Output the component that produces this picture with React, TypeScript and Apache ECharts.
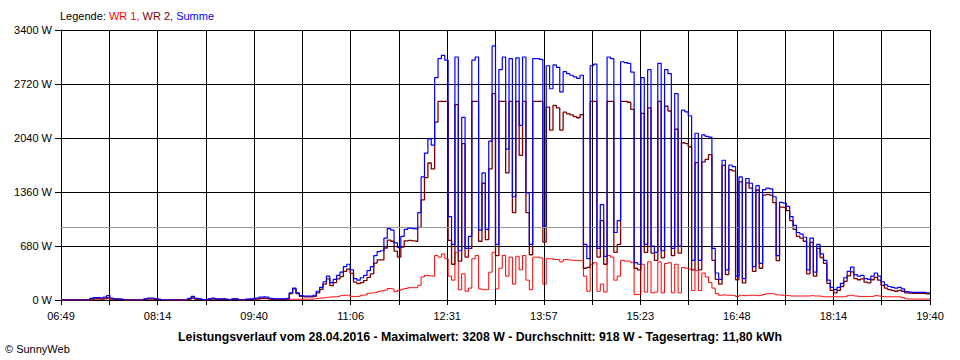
import React, { useEffect, useRef } from 'react';
import * as echarts from 'echarts';

// time axis: seconds after 06:49, one sample every 3 minutes
const STEP_SEC = 180;
const SPAN_SEC = 46260; // 06:49 -> 19:40
const X_TICK_SEC = 2570; // 18 grid columns
const xTickLabels = ['06:49', '08:14', '09:40', '11:06', '12:31', '13:57', '15:23', '16:48', '18:14', '19:40'];

const Y_MAX = 3400;
const Y_STEP = 680;
const avgPower = 918;

const titleText = 'Leistungsverlauf vom 28.04.2016 - Maximalwert: 3208 W - Durchschnitt: 918 W - Tagesertrag: 11,80 kWh';

// WR 1 (W)
const wr1 = [
  0, 0, 0, 0, 0, 0, 0, 0, 0, 10,
  15, 15, 15, 20, 30, 15, 5, 5, 5, 0,
  0, 0, 0, 0, 0, 5, 10, 10, 5, 5,
  0, 0, 0, 0, 0, 0, 0, 0, 10, 20,
  10, 5, 0, 0, 5, 10, 5, 5, 5, 5,
  0, 5, 5, 0, 0, 5, 5, 5, 10, 15,
  15, 15, 10, 5, 5, 5, 5, 5, 10, 10,
  10, 10, 10, 10, 10, 15, 20, 25, 30, 35,
  40, 40, 45, 55, 60, 60, 45, 45, 45, 60,
  65, 85, 90, 95, 105, 115, 125, 145, 140, 105,
  120, 135, 145, 155, 155, 155, 185, 290, 310, 305,
  300, 560, 540, 580, 520, 300, 250, 600, 130, 330,
  110, 150, 520, 560, 140, 130, 130, 350, 600, 140,
  400, 560, 300, 540, 200, 550, 380, 560, 250, 130,
  540, 540, 530, 200, 520, 520, 510, 510, 480, 510,
  505, 500, 500, 495, 495, 300, 110, 450, 470, 110,
  200, 100, 560, 540, 250, 300, 500, 490, 490, 470,
  70, 70, 450, 100, 480, 90, 100, 480, 90, 460,
  470, 90, 450, 90, 410, 400, 390, 120, 370, 120,
  340, 290, 220, 150, 80, 60, 65, 60, 60, 55,
  45, 60, 55, 55, 60, 60, 55, 60, 70, 80,
  80, 75, 65, 60, 55, 55, 50, 50, 50, 50,
  50, 50, 55, 50, 50, 45, 40, 40, 40, 40,
  40, 40, 45, 55, 60, 50, 45, 45, 45, 45,
  45, 55, 50, 45, 40, 40, 40, 40, 40, 30,
  15, 12, 12, 12, 12, 12, 12, 12,
];

// WR 2 (W)
const wr2 = [
  0, 0, 0, 0, 0, 0, 0, 0, 0, 10,
  15, 15, 10, 15, 25, 10, 10, 10, 5, 0,
  0, 0, 0, 0, 0, 10, 15, 15, 10, 5,
  0, 0, 0, 0, 0, 0, 0, 0, 10, 25,
  10, 10, 5, 0, 10, 15, 10, 10, 10, 5,
  0, 10, 10, 0, 0, 5, 10, 10, 15, 20,
  25, 20, 10, 10, 10, 10, 10, 15, 80, 140,
  80, 45, 40, 40, 40, 45, 90, 135, 200, 265,
  180, 220, 265, 295, 360, 390, 335, 225, 205, 220,
  245, 285, 330, 465, 505, 505, 655, 755, 740, 615,
  540, 665, 745, 750, 745, 740, 915, 1260, 1540, 1725,
  1650, 2240, 2500, 2500, 2500, 750, 450, 2460, 490, 1970,
  540, 650, 2500, 2500, 740, 1470, 760, 1650, 2600, 560,
  2500, 2500, 1600, 2500, 1100, 2500, 1820, 2500, 1100, 570,
  2500, 2500, 2500, 730, 2430, 2140, 2450, 2420, 2140, 2365,
  2345, 2330, 2310, 2295, 2335, 400, 410, 2500, 2500, 540,
  1000, 450, 2500, 2500, 600, 700, 2500, 2500, 2490, 2400,
  400, 380, 2350, 600, 2420, 590, 500, 2500, 530, 2440,
  2380, 560, 2150, 590, 1980, 1970, 1930, 380, 1730, 380,
  1740, 1770, 1830, 500, 260, 200, 1695, 320, 1640, 1625,
  255, 1490, 215, 1475, 1410, 360, 1385, 400, 1320, 1330,
  1320, 1225, 495, 1170, 1165, 1125, 1000, 890, 800, 780,
  740, 330, 725, 300, 650, 535, 460, 210, 120, 90,
  120, 170, 235, 305, 355, 270, 255, 265, 225, 215,
  255, 285, 250, 185, 150, 130, 120, 110, 120, 110,
  90, 88, 83, 83, 83, 83, 78, 78,
];

// Summe = WR 1 + WR 2
const summe = wr1.map((v, i) => v + wr2[i]);

const FONT = '"Liberation Sans", Arial, sans-serif';

export default function App() {
  const ref = useRef<HTMLDivElement>(null);
  useEffect(() => {
    if (!ref.current) return;
    const chart = echarts.init(ref.current, undefined, { renderer: 'svg' });
    const toPts = (arr: number[]) => arr.map((v, i) => [i * STEP_SEC, v]);
    chart.setOption({
      animation: false,
      backgroundColor: '#ffffff',
      textStyle: { fontFamily: FONT },
      grid: { left: 61, right: 30, top: 30, bottom: 60, outerBoundsMode: 'none' },
      xAxis: {
        type: 'value',
        min: 0,
        max: SPAN_SEC,
        interval: X_TICK_SEC,
        axisLine: { show: true, lineStyle: { color: '#000', width: 1 } },
        axisTick: { show: true, length: 5, lineStyle: { color: '#000', width: 1 } },
        splitLine: { show: true, lineStyle: { color: '#000', width: 1 } },
        axisLabel: {
          color: '#000',
          fontSize: 11,
          fontFamily: FONT,
          margin: 10,
          showMinLabel: true,
          showMaxLabel: true,
          formatter: (v: number) => {
            const k = Math.round(v / X_TICK_SEC);
            return k % 2 === 0 ? xTickLabels[k / 2] ?? '' : '';
          },
        },
      },
      yAxis: {
        type: 'value',
        min: 0,
        max: Y_MAX,
        interval: Y_STEP,
        axisLine: { show: true, lineStyle: { color: '#000', width: 1 } },
        axisTick: { show: true, length: 6, lineStyle: { color: '#000', width: 1 } },
        splitLine: { show: true, lineStyle: { color: '#000', width: 1 } },
        axisLabel: {
          color: '#000',
          fontSize: 11,
          fontFamily: FONT,
          margin: 9,
          formatter: (v: number) => `${v} W`,
        },
      },
      series: [
        {
          name: 'WR 1',
          type: 'line',
          step: 'middle',
          showSymbol: false,
          z: 3,
          data: toPts(wr1),
          lineStyle: { color: '#ff0000', width: 1 },
          itemStyle: { color: '#ff0000' },
          markLine: {
            silent: true,
            symbol: 'none',
            label: { show: false },
            lineStyle: { color: '#999999', width: 1, type: 'solid' },
            data: [{ yAxis: avgPower }],
          },
        },
        {
          name: 'WR 2',
          type: 'line',
          step: 'middle',
          showSymbol: false,
          z: 4,
          data: toPts(wr2),
          lineStyle: { color: '#800000', width: 1.3 },
          itemStyle: { color: '#800000' },
        },
        {
          name: 'Summe',
          type: 'line',
          step: 'middle',
          showSymbol: false,
          z: 5,
          data: toPts(summe),
          lineStyle: { color: '#0000ff', width: 1.2 },
          itemStyle: { color: '#0000ff' },
        },
      ],
      graphic: [
        {
          type: 'text',
          x: 60,
          y: 16,
          style: {
            text: '{k|Legende: }{r|WR 1, }{d|WR 2, }{b|Summe}',
            verticalAlign: 'middle',
            font: `11px ${FONT}`,
            rich: {
              k: { fill: '#000', font: `11px ${FONT}` },
              r: { fill: '#ff0000', font: `11px ${FONT}` },
              d: { fill: '#800000', font: `11px ${FONT}` },
              b: { fill: '#0000ff', font: `11px ${FONT}` },
            },
          },
        },
        {
          type: 'text',
          x: 480,
          y: 337,
          style: {
            text: titleText,
            align: 'center',
            verticalAlign: 'middle',
            fill: '#000',
            font: `bold 12.3px ${FONT}`,
          },
        },
        {
          type: 'text',
          x: 5,
          y: 349,
          style: {
            text: '© SunnyWeb',
            verticalAlign: 'middle',
            fill: '#000',
            font: `11px ${FONT}`,
          },
        },
      ],
    });
    return () => chart.dispose();
  }, []);
  return (
    <div
      ref={ref}
      style={{ position: 'absolute', left: 0, top: 0, width: 960, height: 360, background: '#fff' }}
    />
  );
}
